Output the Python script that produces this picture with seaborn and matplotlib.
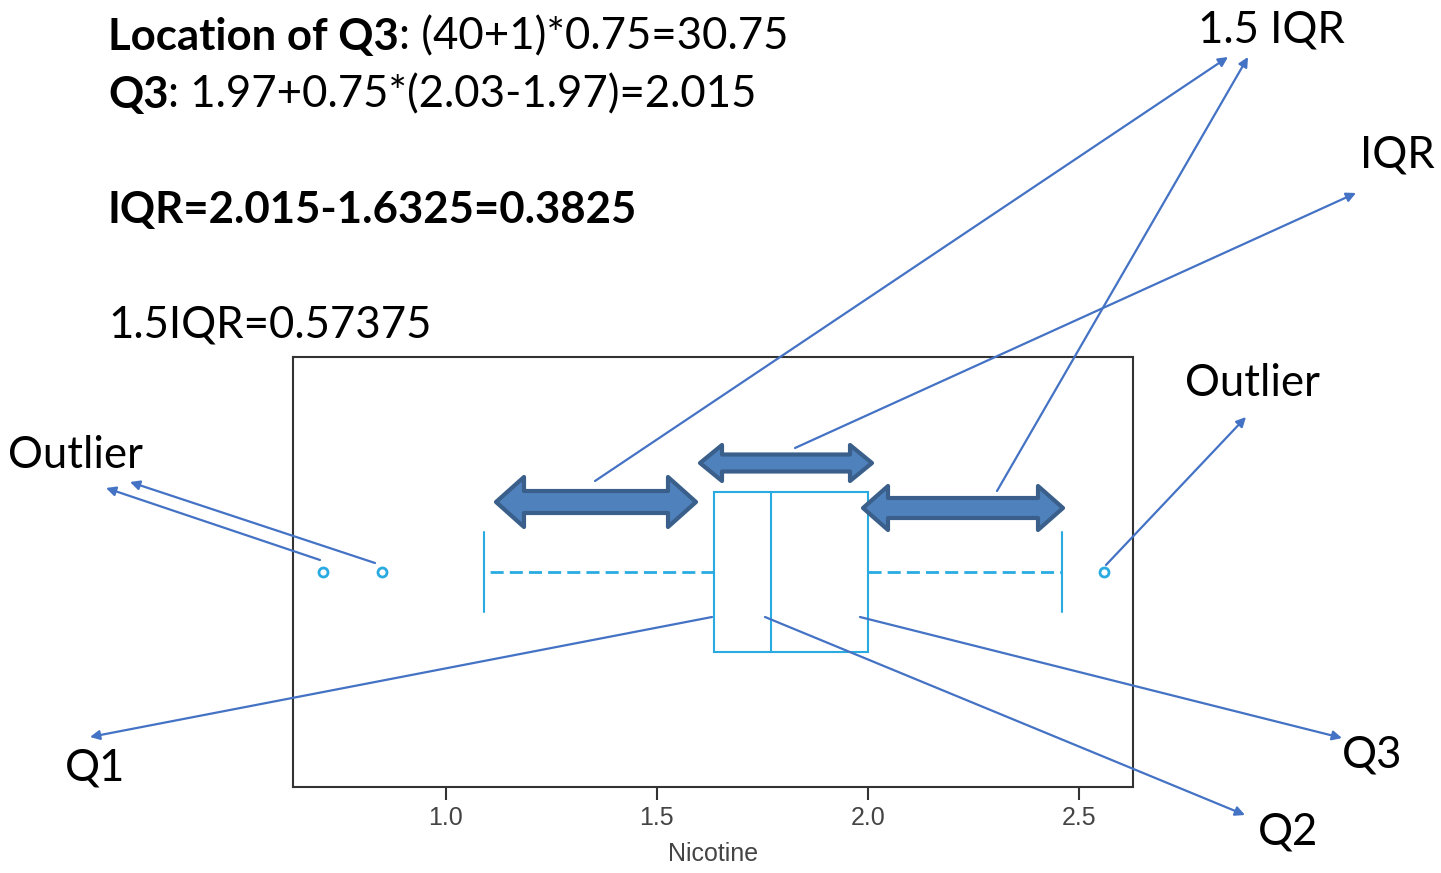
import numpy as np
import matplotlib.pyplot as plt
import seaborn as sns
from matplotlib.patches import Polygon, FancyArrowPatch

sns.set_theme(style="ticks")
plt.rcParams['font.family'] = ['Lato', 'DejaVu Sans']
plt.rcParams['text.color'] = 'black'

# 40 nicotine values (read so the box matches the picture)
nicotine = [0.71, 0.85, 1.09, 1.21, 1.32, 1.40, 1.47, 1.53, 1.58, 1.62,
            1.64, 1.66, 1.68, 1.70, 1.71, 1.72, 1.74, 1.75, 1.76, 1.76,
            1.78, 1.80, 1.82, 1.85, 1.88, 1.90, 1.93, 1.95, 1.97, 1.98,
            2.06, 2.10, 2.14, 2.19, 2.24, 2.30, 2.36, 2.42, 2.46, 2.56]
tick_values = [1.0, 1.5, 2.0, 2.5]
tick_labels = ['1.0', '1.5', '2.0', '2.5']
x_range = [0.638, 2.628]

W, H = 1441, 873
box_color = '#29ABE2'
arrow_color = '#4472C4'
axis_font = ['Liberation Sans Narrow', 'Liberation Sans']


def px(x, y):
    # pixel position (from top-left) -> figure fraction
    return (x / W, 1 - y / H)


fig = plt.figure(figsize=(W / 100, H / 100), dpi=100)
fig.patch.set_facecolor('white')
ax = fig.add_axes([293 / W, 1 - 787 / H, (1133 - 293) / W, (787 - 357) / H])

sns.boxplot(x=nicotine, ax=ax, width=0.37, color='white', linecolor=box_color,
            linewidth=1.5, whis=1.5, fliersize=6.5,
            flierprops=dict(marker='o', markerfacecolor='white',
                            markeredgecolor=box_color, markeredgewidth=2),
            whiskerprops=dict(linestyle=(0, (4.7, 2.2)), linewidth=2))

ax.set_xlim(*x_range)
ax.set_xticks(tick_values)
ax.set_xticklabels(tick_labels, family=axis_font)
ax.set_yticks([])
for s in ax.spines.values():
    s.set_visible(True)
    s.set_color('#333333')
    s.set_linewidth(1.5)
ax.tick_params(axis='x', length=9, width=1.5, color='#333333',
               labelsize=18, labelcolor='#444444', pad=5)
ax.set_xlabel('Nicotine', fontsize=18, color='#444444', labelpad=8, family=axis_font)

# ---- block double arrows ----
def double_arrow(x0, x1, yc, body, head, head_len):
    pts = [(x0, yc), (x0 + head_len, yc - head / 2), (x0 + head_len, yc - body / 2),
           (x1 - head_len, yc - body / 2), (x1 - head_len, yc - head / 2), (x1, yc),
           (x1 - head_len, yc + head / 2), (x1 - head_len, yc + body / 2),
           (x0 + head_len, yc + body / 2), (x0 + head_len, yc + head / 2)]
    fig.patches.append(Polygon([px(*p) for p in pts], closed=True,
                               transform=fig.transFigure, facecolor='#4F81BD',
                               edgecolor='#3A5F8A', linewidth=3, joinstyle='round'))

double_arrow(496, 696, 502, 22, 50, 28)
double_arrow(700, 872, 463, 17, 36, 22)
double_arrow(863, 1063, 508, 20, 44, 25)

# ---- annotation lines ----
def pointer(start, end):
    fig.add_artist(FancyArrowPatch(px(*start), px(*end), transform=fig.transFigure,
                                   arrowstyle='-|>', mutation_scale=14,
                                   color=arrow_color, lw=1.6, shrinkA=0, shrinkB=0))

pointer((595, 481), (1228, 57))
pointer((997, 491), (1248, 57))
pointer((795, 448), (1356, 193))
pointer((320, 560), (106, 488))
pointer((375, 563), (130, 482))
pointer((1106, 565), (1246, 417))
pointer((712, 617), (90, 737))
pointer((765, 617), (1245, 815))
pointer((860, 617), (1342, 738))

# ---- texts ----
fs = 31.5
renderer = fig.canvas.get_renderer()


def two_part(bold, rest, x, y):
    t = fig.text(*px(x, y), bold, fontsize=fs, fontweight='bold', va='center', color='black')
    bb = t.get_window_extent(renderer=renderer)
    fig.text(bb.x1 / W, 1 - y / H, rest, fontsize=fs, va='center', color='black')

two_part('Location of Q3', ': (40+1)*0.75=30.75', 108, 37)
two_part('Q3', ': 1.97+0.75*(2.03-1.97)=2.015', 108, 95)
fig.text(*px(108, 210), 'IQR=2.015-1.6325=0.3825', fontsize=fs, fontweight='bold',
         va='center', color='black')
fig.text(*px(108, 325), '1.5IQR=0.57375', fontsize=fs, va='center', color='black')

labels = [('1.5 IQR', 1198, 30), ('IQR', 1360, 155), ('Outlier', 1185, 383),
          ('Outlier', 8, 455), ('Q1', 65, 768), ('Q3', 1342, 755), ('Q2', 1258, 832)]
for txt, x, y in labels:
    fig.text(*px(x, y), txt, fontsize=fs, va='center', color='black')

fig.savefig('out.png', dpi=100)
